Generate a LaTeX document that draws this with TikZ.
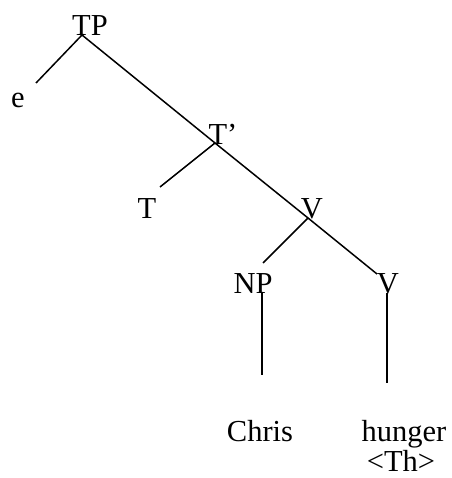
\documentclass[tikz,border=0pt]{standalone}
\usepackage{fontspec}
\setmainfont{Liberation Serif}
\begin{document}
\begin{tikzpicture}[x=1pt,y=-1pt,
  lbl/.style={anchor=base,inner sep=0pt,font=\fontsize{30.5}{34}\selectfont},
  edge/.style={line width=1.5pt}]
\useasboundingbox (0,0) rectangle (451,478);
\node[lbl] (tp) at (90,36) {TP};
\node[lbl] (e) at (18,108) {e};
\node[lbl] (tbar) at (223,145) {T’};
\node[lbl] (t) at (147,218) {T};
\node[lbl] (vp) at (312,218) {V};
\node[lbl] (np) at (253,293) {NP};
\node[lbl] (v) at (388,293) {V};
\node[lbl] (chris) at (260,441) {Chris};
\node[lbl] (hunger) at (404,441) {hunger};
\node[lbl] (th) at (401,471) {<Th>};
% junction points
\coordinate (jtp) at (82,35);
\coordinate (je) at (36,83);
\coordinate (jtbar) at (215,143);
\coordinate (jt) at (160,187);
\coordinate (jvp) at (308,218);
\coordinate (jnp) at (263,263);
\coordinate (jv) at (377,274);
\coordinate (npa) at (262,293);
\coordinate (npb) at (262,375);
\coordinate (va) at (387,293);
\coordinate (vb) at (387,383);
\draw[edge] (jtp) -- (je);
\draw[edge] (jtp) -- (jtbar) -- (jvp) -- (jv);
\draw[edge] (jtbar) -- (jt);
\draw[edge] (jvp) -- (jnp);
\draw[edge] (npa) -- (npb);
\draw[edge] (va) -- (vb);
\end{tikzpicture}
\end{document}
